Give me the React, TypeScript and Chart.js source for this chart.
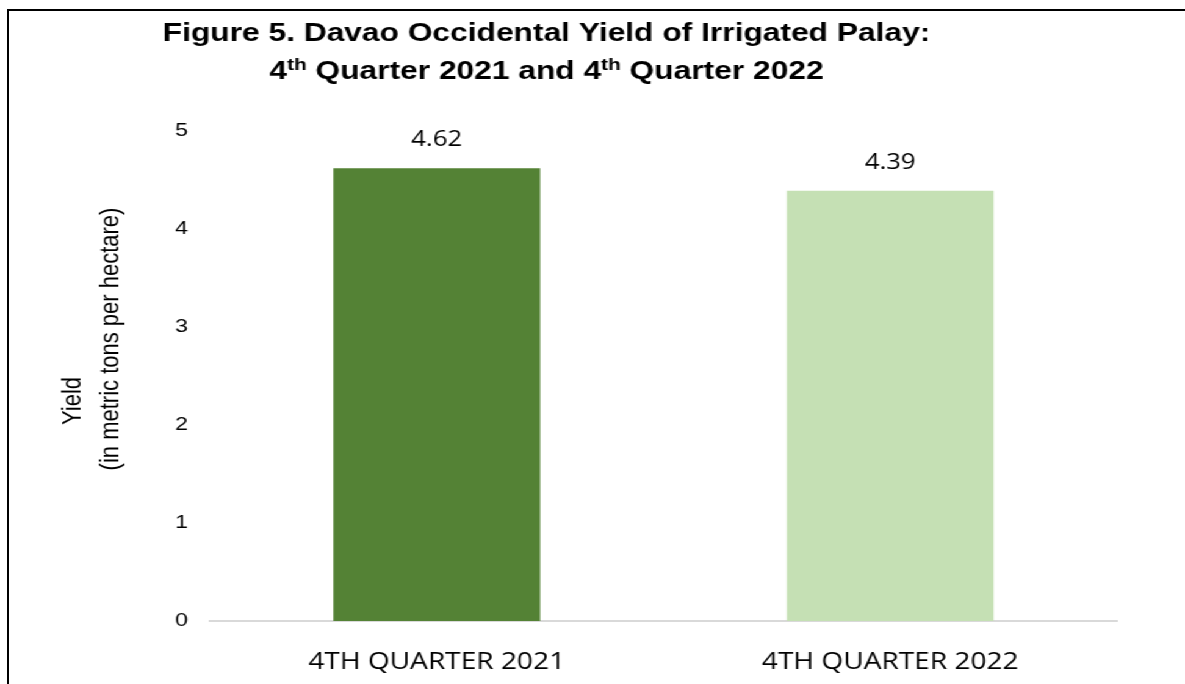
import React, { useEffect, useRef } from "react";
import { Chart, registerables } from "chart.js";

Chart.register(...registerables);

const categories: string[] = ["4TH QUARTER 2021", "4TH QUARTER 2022"];
const yieldValues: number[] = [4.62, 4.39];
const valueLabels: string[] = ["4.62", "4.39"];
const barColors: string[] = ["#548235", "#C5E0B4"];
const yMin = 0;
const yMax = 5;
const yStep = 1;
const titleLine1 = "Figure 5. Davao Occidental Yield of Irrigated Palay:";
const titleLine2: { text: string; sup?: boolean }[] = [
  { text: "4" },
  { text: "th", sup: true },
  { text: " Quarter 2021 and 4" },
  { text: "th", sup: true },
  { text: " Quarter 2022" },
];
const yTitleLines: string[] = ["Yield", "(in metric tons per hectare)"];

// The reference picture is stretched horizontally; draw narrower and stretch.
const PAGE_W = 1185;
const PAGE_H = 684;
const CANVAS_W = 971;
const SX = PAGE_W / CANVAS_W;
const px = (screenX: number) => screenX / SX;

const TITLE_FONT = "bold 26px 'Liberation Sans', Arial, sans-serif";
const SUP_FONT = "bold 17px 'Liberation Sans', Arial, sans-serif";
const AXIS_TITLE_FONT = "22px 'Liberation Sans', Arial, sans-serif";
const LABEL_FONT = "21px 'Open Sans', sans-serif";

const titlePlugin = {
  id: "customTitle",
  afterDraw(chart: any) {
    const ctx = chart.ctx as CanvasRenderingContext2D;
    ctx.save();
    ctx.fillStyle = "#000";
    ctx.textBaseline = "alphabetic";
    ctx.textAlign = "left";
    const cx = px(546.5);
    ctx.font = TITLE_FONT;
    const w1 = ctx.measureText(titleLine1).width;
    ctx.fillText(titleLine1, cx - w1 / 2, 41);
    let total = 0;
    for (const seg of titleLine2) {
      ctx.font = seg.sup ? SUP_FONT : TITLE_FONT;
      total += ctx.measureText(seg.text).width;
    }
    let x = cx - total / 2;
    for (const seg of titleLine2) {
      ctx.font = seg.sup ? SUP_FONT : TITLE_FONT;
      ctx.fillText(seg.text, x, seg.sup ? 70 : 79);
      x += ctx.measureText(seg.text).width;
    }
    ctx.font = AXIS_TITLE_FONT;
    ctx.textAlign = "center";
    ctx.textBaseline = "middle";
    const pos = [
      [px(73), 401],
      [px(111), 339],
    ];
    yTitleLines.forEach((t, i) => {
      ctx.save();
      ctx.translate(pos[i][0], pos[i][1]);
      ctx.rotate(-Math.PI / 2);
      ctx.fillText(t, 0, 0);
      ctx.restore();
    });
    ctx.restore();
  },
};

const valueLabelPlugin = {
  id: "valueLabels",
  afterDatasetsDraw(chart: any) {
    const ctx = chart.ctx as CanvasRenderingContext2D;
    const meta = chart.getDatasetMeta(0);
    ctx.save();
    ctx.font = LABEL_FONT;
    ctx.fillStyle = "#000";
    ctx.textAlign = "center";
    ctx.textBaseline = "middle";
    meta.data.forEach((el: any, i: number) => {
      ctx.fillText(valueLabels[i], el.x, el.y - 28);
    });
    ctx.restore();
  },
};

export default function App() {
  const ref = useRef<HTMLCanvasElement | null>(null);
  useEffect(() => {
    if (!ref.current) return;
    const chart = new Chart(ref.current, {
      type: "bar",
      data: {
        labels: categories,
        datasets: [
          {
            data: yieldValues,
            backgroundColor: barColors,
            borderWidth: 0,
            categoryPercentage: 1,
            barPercentage: 0.456,
          },
        ],
      },
      options: {
        animation: false,
        responsive: false,
        devicePixelRatio: 1,
        layout: {
          padding: { top: 131, right: CANVAS_W - px(1117), left: 0, bottom: 0 },
        },
        plugins: {
          legend: { display: false },
          tooltip: { enabled: false },
          title: { display: false },
        },
        scales: {
          x: {
            grid: { display: false, drawTicks: false },
            border: { display: true, color: "#d9d9d9", width: 2 },
            ticks: {
              font: { family: "'Open Sans', sans-serif", size: 23 },
              color: "#000",
              padding: 28,
            },
            afterFit: (s: any) => {
              s.height = 63;
            },
          },
          y: {
            min: yMin,
            max: yMax,
            grid: { display: false, drawTicks: false },
            border: { display: false },
            ticks: {
              stepSize: yStep,
              font: { family: "'Liberation Sans', Arial, sans-serif", size: 19 },
              color: "#000",
              padding: px(22),
            },
            afterFit: (s: any) => {
              s.width = px(210);
            },
          },
        },
      },
      plugins: [titlePlugin, valueLabelPlugin],
    });
    return () => chart.destroy();
  }, []);

  return (
    <>
      <div
        style={{
          position: "fixed",
          left: 0,
          top: 0,
          width: CANVAS_W,
          height: PAGE_H,
          background: "#fff",
          transform: `scaleX(${SX})`,
          transformOrigin: "0 0",
        }}
      >
        <canvas ref={ref} width={CANVAS_W} height={PAGE_H} />
      </div>
      <div
        style={{
          position: "fixed",
          left: 7,
          top: 9,
          right: 0,
          bottom: 0,
          borderTop: "2px solid #000",
          borderLeft: "2px solid #000",
          pointerEvents: "none",
        }}
      />
    </>
  );
}
